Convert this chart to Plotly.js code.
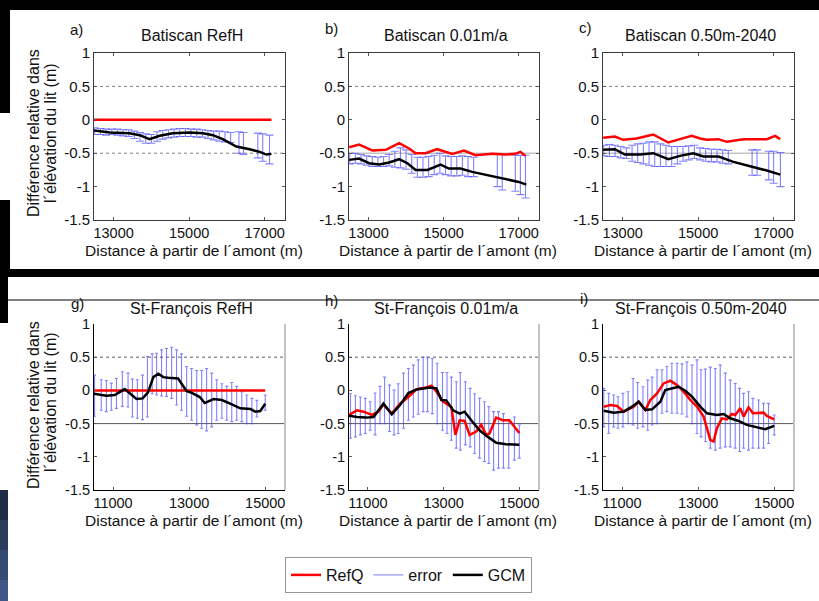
<!DOCTYPE html>
<html><head><meta charset="utf-8">
<script src="https://cdn.plot.ly/plotly-3.0.1.min.js"></script>
<style>html,body{margin:0;padding:0;background:#fff;}#chart{width:819px;height:601px;}</style>
</head><body><div id="chart"></div>
<script>
// ---------- DATA ----------
const yTickVals = [-1.5, -1, -0.5, 0, 0.5, 1];
const yTickText = ['-1.5', '-1', '-0.5', '0', '0.5', '1'];
const xTickValsTop = [13000, 15000, 17000];
const xTickTextTop = ['13000', '15000', '17000'];
const xTickValsBot = [11000, 13000, 15000];
const xTickTextBot = ['11000', '13000', '15000'];

const panelTitles = ['Batiscan RefH', 'Batiscan 0.01m/a', 'Batiscan 0.50m-2040',
                     'St-François RefH', 'St-François 0.01m/a', 'St-François 0.50m-2040'];
const panelLetters = ['a)', 'b)', 'c)', 'g)', 'h)', 'i)'];
const xTitle = 'Distance à partir de l´amont (m)';
const yTitle1 = 'Différence relative dans';
const yTitle2 = 'l´élévation du lit (m)';
const legendNames = ['RefQ', 'error', 'GCM'];

// Panel a — Batiscan RefH
const aRefX = [12480, 13000, 13500, 14000, 14500, 15000, 15500, 16000, 16500, 17000, 17180];
const aRefY = [0, 0, 0, 0, 0, 0, 0, 0, 0, 0, 0];
const aGcmX = [12480, 12900, 13420, 13690, 13950, 14220, 14570, 15010, 15370, 15630, 15890, 16250, 16600, 16870, 17045, 17180];
const aGcmY = [-0.16, -0.19, -0.20, -0.23, -0.29, -0.24, -0.20, -0.19, -0.20, -0.23, -0.29, -0.40, -0.44, -0.48, -0.52, -0.51];
const aErrX = [12500, 12650, 12800, 12950, 13100, 13250, 13400, 13550, 13700, 13850, 14000, 14150, 14300, 14450, 14600, 14750, 14900, 15050, 15200, 15350, 15500, 15650, 15800, 15950, 16100, 16320, 16440, 16820, 16950, 17130];
const aErrLo = [-0.22, -0.22, -0.23, -0.22, -0.23, -0.24, -0.25, -0.28, -0.32, -0.35, -0.35, -0.32, -0.29, -0.27, -0.26, -0.25, -0.25, -0.25, -0.26, -0.26, -0.28, -0.30, -0.32, -0.33, -0.34, -0.50, -0.52, -0.57, -0.62, -0.66];
const aErrHi = [-0.12, -0.13, -0.14, -0.14, -0.14, -0.15, -0.15, -0.17, -0.19, -0.21, -0.22, -0.18, -0.16, -0.15, -0.14, -0.13, -0.13, -0.14, -0.14, -0.15, -0.16, -0.17, -0.17, -0.18, -0.19, -0.18, -0.19, -0.20, -0.21, -0.23];

// Panel b — Batiscan 0.01m/a
const bRefX = [12485, 12750, 13105, 13460, 13815, 14080, 14255, 14520, 14830, 15050, 15230, 15540, 15850, 16290, 16650, 16910, 17045, 17180];
const bRefY = [-0.41, -0.37, -0.46, -0.45, -0.35, -0.43, -0.50, -0.50, -0.44, -0.48, -0.51, -0.46, -0.53, -0.51, -0.52, -0.51, -0.48, -0.54];
const bGcmX = [12485, 12750, 13015, 13280, 13550, 13815, 14035, 14255, 14570, 14920, 15140, 15450, 15760, 16200, 16650, 17000, 17205];
const bGcmY = [-0.60, -0.58, -0.65, -0.67, -0.64, -0.59, -0.65, -0.75, -0.75, -0.67, -0.73, -0.73, -0.78, -0.83, -0.88, -0.93, -0.97];
const bErrX = [12500, 12650, 12800, 12950, 13100, 13250, 13400, 13550, 13700, 13850, 14000, 14150, 14300, 14450, 14600, 14750, 14900, 15050, 15200, 15350, 15500, 15650, 15800, 16430, 16560, 16910, 17045, 17180];
const bErrLo = [-0.66, -0.65, -0.66, -0.68, -0.70, -0.70, -0.70, -0.69, -0.71, -0.72, -0.74, -0.80, -0.86, -0.86, -0.85, -0.82, -0.80, -0.82, -0.84, -0.84, -0.83, -0.85, -0.85, -1.00, -1.05, -1.07, -1.12, -1.17];
const bErrHi = [-0.50, -0.50, -0.52, -0.54, -0.55, -0.56, -0.55, -0.52, -0.47, -0.42, -0.45, -0.52, -0.56, -0.56, -0.55, -0.53, -0.50, -0.54, -0.55, -0.55, -0.54, -0.55, -0.56, -0.52, -0.52, -0.53, -0.53, -0.53];

// Panel c — Batiscan 0.50m-2040
const cRefX = [12485, 12795, 13015, 13370, 13810, 14030, 14210, 14520, 14830, 15055, 15230, 15540, 15760, 16200, 16820, 17040, 17175];
const cRefY = [-0.27, -0.25, -0.30, -0.28, -0.22, -0.28, -0.34, -0.29, -0.24, -0.28, -0.30, -0.29, -0.33, -0.29, -0.29, -0.24, -0.29];
const cGcmX = [12485, 12795, 13060, 13460, 13810, 14210, 14520, 14870, 15140, 15540, 15935, 16380, 16820, 17175];
const cGcmY = [-0.45, -0.44, -0.52, -0.52, -0.50, -0.59, -0.54, -0.50, -0.55, -0.55, -0.63, -0.69, -0.76, -0.82];
const cErrX = [12500, 12650, 12800, 12950, 13100, 13250, 13400, 13550, 13700, 13850, 14000, 14150, 14300, 14450, 14600, 14750, 14900, 15050, 15200, 15350, 15500, 15650, 15800, 16430, 16560, 16870, 17000, 17180];
const cErrLo = [-0.54, -0.55, -0.55, -0.57, -0.58, -0.62, -0.64, -0.66, -0.68, -0.70, -0.70, -0.70, -0.70, -0.66, -0.62, -0.60, -0.58, -0.60, -0.62, -0.63, -0.63, -0.65, -0.66, -0.83, -0.83, -0.90, -0.95, -1.00];
const cErrHi = [-0.38, -0.37, -0.38, -0.40, -0.42, -0.38, -0.36, -0.35, -0.33, -0.33, -0.36, -0.38, -0.40, -0.40, -0.40, -0.39, -0.38, -0.42, -0.43, -0.44, -0.44, -0.45, -0.46, -0.45, -0.45, -0.47, -0.47, -0.49];

// Panel g — St-François RefH
const gRefX = [10500, 11000, 11500, 12000, 12500, 13000, 13500, 14000, 14500, 15000];
const gRefY = [0, 0, 0, 0, 0, 0, 0, 0, 0, 0];
const gGcmX = [10490, 10824, 11044, 11308, 11617, 11780, 11920, 12060, 12190, 12320, 12450, 12710, 12930, 13060, 13280, 13410, 13640, 13860, 14080, 14345, 14610, 14740, 14870, 15000];
const gGcmY = [-0.05, -0.08, -0.07, 0.02, -0.13, -0.12, -0.03, 0.20, 0.25, 0.20, 0.19, 0.18, -0.01, -0.035, -0.10, -0.19, -0.13, -0.145, -0.20, -0.27, -0.28, -0.32, -0.31, -0.20];
const gErrX = [10515, 10690, 10825, 10955, 11090, 11245, 11395, 11510, 11640, 11775, 11905, 12030, 12145, 12275, 12405, 12540, 12670, 12800, 12935, 13065, 13200, 13330, 13460, 13595, 13725, 13860, 13990, 14120, 14250, 14385, 14515, 14650, 14780, 15000];
const gErrHi = [0.23, 0.16, 0.15, 0.11, 0.18, 0.28, 0.26, 0.17, 0.16, 0.23, 0.51, 0.55, 0.56, 0.61, 0.63, 0.65, 0.61, 0.55, 0.36, 0.33, 0.30, 0.30, 0.33, 0.26, 0.16, 0.10, 0.06, 0.12, 0.06, -0.02, -0.07, -0.12, -0.15, -0.07];
const gErrLo = [-0.39, -0.30, -0.32, -0.30, -0.27, -0.24, -0.25, -0.40, -0.42, -0.44, -0.40, -0.05, -0.07, -0.085, -0.09, -0.12, -0.22, -0.30, -0.39, -0.45, -0.52, -0.57, -0.61, -0.55, -0.45, -0.42, -0.45, -0.47, -0.45, -0.47, -0.50, -0.50, -0.40, -0.30];

// Panel h — St-François 0.01m/a
const hRefX = [10501, 10711, 10886, 11105, 11280, 11411, 11630, 11760, 11849, 12068, 12287, 12505, 12680, 12812, 12987, 13206, 13311, 13425, 13556, 13687, 13862, 13993, 14125, 14212, 14387, 14562, 14737, 15000];
const hRefY = [-0.37, -0.30, -0.32, -0.37, -0.32, -0.21, -0.35, -0.25, -0.20, -0.10, 0.02, 0.04, 0.07, -0.02, -0.17, -0.25, -0.67, -0.45, -0.46, -0.67, -0.62, -0.52, -0.67, -0.65, -0.41, -0.45, -0.45, -0.64];
const hGcmX = [10501, 10711, 10960, 11150, 11410, 11630, 11849, 12070, 12287, 12460, 12640, 12810, 12940, 13070, 13250, 13425, 13555, 13730, 13950, 14170, 14390, 14650, 15000];
const hGcmY = [-0.38, -0.40, -0.41, -0.40, -0.20, -0.36, -0.22, -0.04, 0.015, 0.03, 0.045, 0.03, -0.145, -0.15, -0.30, -0.35, -0.32, -0.45, -0.60, -0.70, -0.79, -0.81, -0.82];
const hErrX = [10540, 10670, 10800, 10930, 11060, 11190, 11320, 11440, 11570, 11690, 11800, 11940, 12070, 12200, 12330, 12460, 12575, 12700, 12830, 12970, 13090, 13205, 13335, 13440, 13575, 13700, 13820, 13950, 14080, 14195, 14320, 14450, 14580, 14720, 14870, 15000];
const hErrHi = [-0.05, -0.08, -0.10, -0.12, -0.17, -0.04, 0.06, 0.20, 0.08, 0.005, 0.10, 0.26, 0.33, 0.38, 0.46, 0.50, 0.50, 0.48, 0.41, 0.27, 0.27, 0.20, 0.13, 0.27, 0.13, 0.03, -0.05, -0.12, -0.17, -0.245, -0.32, -0.32, -0.35, -0.45, -0.40, -0.52];
const hErrLo = [-0.72, -0.70, -0.67, -0.65, -0.60, -0.67, -0.50, -0.50, -0.62, -0.67, -0.65, -0.57, -0.45, -0.40, -0.36, -0.32, -0.32, -0.35, -0.50, -0.60, -0.65, -0.75, -0.87, -0.90, -0.82, -0.85, -0.95, -1.02, -1.07, -1.10, -1.20, -1.17, -1.17, -1.17, -1.05, -1.02];

// Panel i — St-François 0.50m-2040
const iRefX = [10519, 10694, 10869, 11044, 11306, 11438, 11613, 11744, 11919, 12094, 12269, 12444, 12619, 12794, 12969, 13144, 13319, 13407, 13494, 13626, 13757, 13888, 13976, 14107, 14195, 14326, 14440, 14589, 14720, 14808, 15000];
const iRefY = [-0.245, -0.22, -0.235, -0.32, -0.245, -0.17, -0.295, -0.145, -0.045, 0.105, 0.145, 0.08, -0.02, -0.145, -0.245, -0.395, -0.745, -0.77, -0.57, -0.42, -0.435, -0.355, -0.37, -0.27, -0.395, -0.255, -0.345, -0.345, -0.335, -0.385, -0.435];
const iGcmX = [10519, 10781, 11044, 11262, 11438, 11613, 11788, 12007, 12138, 12313, 12488, 12663, 12838, 13057, 13232, 13494, 13669, 13844, 14063, 14282, 14545, 14764, 15000];
const iGcmY = [-0.305, -0.335, -0.32, -0.245, -0.17, -0.295, -0.285, -0.17, 0.005, 0.03, 0.055, -0.005, -0.095, -0.245, -0.345, -0.37, -0.355, -0.42, -0.46, -0.52, -0.56, -0.585, -0.535];
const iErrX = [10520, 10650, 10780, 10895, 11025, 11160, 11290, 11410, 11550, 11675, 11790, 11920, 12050, 12180, 12310, 12445, 12575, 12705, 12840, 12970, 13075, 13190, 13320, 13450, 13580, 13715, 13845, 13975, 14090, 14195, 14325, 14440, 14590, 14720, 14850, 15000];
const iErrHi = [0.03, -0.045, -0.07, -0.095, -0.045, -0.02, 0.18, 0.12, 0.055, 0.155, 0.20, 0.31, 0.31, 0.36, 0.41, 0.41, 0.40, 0.43, 0.38, 0.46, 0.31, 0.32, 0.35, 0.33, 0.38, 0.26, 0.155, 0.105, 0.03, -0.045, -0.02, -0.12, -0.145, -0.195, -0.195, -0.37];
const iErrLo = [-0.55, -0.65, -0.55, -0.57, -0.55, -0.50, -0.52, -0.57, -0.55, -0.60, -0.52, -0.50, -0.345, -0.32, -0.345, -0.345, -0.355, -0.40, -0.50, -0.65, -0.70, -0.77, -0.87, -0.90, -0.87, -0.85, -0.85, -0.87, -0.92, -0.87, -0.90, -0.87, -0.87, -0.87, -0.80, -0.67];

// ---------- LAYOUT HELPERS ----------
const W = 819, H = 601;
const FONT = 'Liberation Sans, Arial, sans-serif';
const PX = p => p / W;
const PY = p => 1 - p / H;
const RED = '#ff0000', BLACK = '#000000', BLUE = 'rgba(70,70,255,0.68)';

const panels = [
  {ref:[aRefX,aRefY], gcm:[aGcmX,aGcmY], err:[aErrX,aErrLo,aErrHi], top:true},
  {ref:[bRefX,bRefY], gcm:[bGcmX,bGcmY], err:[bErrX,bErrLo,bErrHi], top:true},
  {ref:[cRefX,cRefY], gcm:[cGcmX,cGcmY], err:[cErrX,cErrLo,cErrHi], top:true},
  {ref:[gRefX,gRefY], gcm:[gGcmX,gGcmY], err:[gErrX,gErrLo,gErrHi], top:false},
  {ref:[hRefX,hRefY], gcm:[hGcmX,hGcmY], err:[hErrX,hErrLo,hErrHi], top:false},
  {ref:[iRefX,iRefY], gcm:[iGcmX,iGcmY], err:[iErrX,iErrLo,iErrHi], top:false}
];
const colLeft = [94, 349, 603], colRight = [285, 539, 794];
const rowTop = [53, 324], rowBot = [220, 490];

const traces = [];
const layout = {
  width: W, height: H, margin: {l:0, r:0, t:0, b:0},
  paper_bgcolor: '#ffffff', plot_bgcolor: '#ffffff',
  font: {family: FONT, color: '#111'},
  showlegend: true,
  legend: {orientation:'h', x: PX(285), y: PY(557), xanchor:'left', yanchor:'top',
           bordercolor:'rgb(150,150,150)', borderwidth:1, bgcolor:'#ffffff',
           font:{family:FONT, size:16, color:'#111'}, itemwidth:30, tracegroupgap:0},
  shapes: [], annotations: []
};

panels.forEach((p, k) => {
  const n = k + 1, sfx = n === 1 ? '' : String(n);
  const xa = 'x' + sfx, ya = 'y' + sfx;
  const col = k % 3, row = p.top ? 0 : 1;
  const lineCol = p.top ? 'rgb(60,60,60)' : '#000';
  layout['xaxis' + sfx] = {
    domain: [PX(colLeft[col]), PX(colRight[col])],
    range: p.top ? [12480, 17540] : [10500, 15520],
    anchor: ya, showgrid:false, zeroline:false, showline:true, linecolor: lineCol, linewidth:1,
    mirror: p.top ? 'ticks' : false, ticks:'inside', ticklen:3, tickcolor:'rgb(90,90,90)',
    tickvals: p.top ? xTickValsTop : xTickValsBot, ticktext: p.top ? xTickTextTop : xTickTextBot,
    tickfont: {family:FONT, size: 14.5, color:'#111'}, fixedrange:true
  };
  layout['yaxis' + sfx] = {
    domain: [PY(rowBot[row]), PY(rowTop[row])],
    range: [-1.5, 1], anchor: xa, showgrid:false, zeroline:false, showline:true,
    linecolor: lineCol, linewidth:1, mirror: p.top ? 'ticks' : false,
    ticks:'inside', ticklen:3, tickcolor:'rgb(90,90,90)',
    tickvals: yTickVals, ticktext: yTickText,
    tickfont: {family:FONT, size: p.top ? 15 : 14.5, color:'#111'}, fixedrange:true
  };
  // reference lines at +/-0.5
  const dom = {xref: xa + ' domain', x0: 0, x1: 1, yref: ya, layer:'below'};
  layout.shapes.push(Object.assign({type:'line', y0:0.5, y1:0.5,
     line:{color: p.top ? 'rgb(130,130,130)' : 'rgb(150,150,150)', width: p.top ? 1 : 1.5, dash:'dot'}}, dom));
  layout.shapes.push(Object.assign({type:'line', y0:-0.5, y1:-0.5,
     line: p.top ? (k === 0 ? {color:'rgb(130,130,130)', width:1, dash:'dot'} : {color:'rgb(195,195,195)', width:1.5})
                 : {color:'rgb(90,90,90)', width:1}}, dom));
  if (!p.top) {
    layout.shapes.push({type:'line', xref: xa + ' domain', x0:1, x1:1, yref: ya + ' domain', y0:0, y1:1,
      line:{color:'rgb(195,195,195)', width:2}, layer:'above'});
  }
  // traces
  const [ex, lo, hi] = p.err;
  const ctr = lo.map((l, i) => (l + hi[i]) / 2);
  const half = lo.map((l, i) => (hi[i] - l) / 2);
  traces.push({type:'scatter', mode:'markers', x: ex, y: ctr, xaxis: xa, yaxis: ya,
    marker:{size:1, color:'rgba(0,0,0,0)'}, showlegend:false, hoverinfo:'skip',
    error_y:{type:'data', array: half, symmetric:true, color: BLUE, thickness:1.1, width: p.top ? 4 : 1.5}});
  traces.push({type:'scatter', mode:'lines', x: p.ref[0], y: p.ref[1], xaxis: xa, yaxis: ya,
    line:{color: RED, width: 2.5}, showlegend:false, hoverinfo:'skip'});
  traces.push({type:'scatter', mode:'lines', x: p.gcm[0], y: p.gcm[1], xaxis: xa, yaxis: ya,
    line:{color: BLACK, width: 2.5}, showlegend:false, hoverinfo:'skip'});

  // texts
  const cx = (colLeft[col] + colRight[col]) / 2;
  layout.annotations.push({xref:'paper', yref:'paper', x: PX(cx + 2), y: PY(p.top ? 36 : 308),
    text: panelTitles[k], showarrow:false, xanchor:'center', yanchor:'middle',
    font:{family:FONT, size:16, color:'#111'}});
  const letterPos = [[76,30],[331,29],[585,28],[77,303],[331,300],[584,298]][k];
  layout.annotations.push({xref:'paper', yref:'paper', x: PX(letterPos[0]), y: PY(letterPos[1]),
    text: panelLetters[k], showarrow:false, xanchor:'center', yanchor:'middle',
    font:{family:FONT, size:15, color:'#111'}});
  layout.annotations.push({xref:'paper', yref:'paper', x: PX(cx + 4), y: PY(p.top ? 250 : 520),
    text: xTitle, showarrow:false, xanchor:'center', yanchor:'middle',
    font:{family:FONT, size:15.5, color:'#111'}});
});

// y-axis titles (two rotated lines per row)
[[133, 133], [405, 402]].forEach(([c1, c2]) => {
  layout.annotations.push({xref:'paper', yref:'paper', x: PX(33), y: PY(c1), text: yTitle1,
    textangle:-90, showarrow:false, xanchor:'center', yanchor:'middle', font:{family:FONT, size:16, color:'#111'}});
  layout.annotations.push({xref:'paper', yref:'paper', x: PX(50), y: PY(c2), text: yTitle2,
    textangle:-90, showarrow:false, xanchor:'center', yanchor:'middle', font:{family:FONT, size:16, color:'#111'}});
});

// slide frame (screenshot background)
const frame = [
  {x0:0, x1:W, y0:0, y1:10, c:'#000'},
  {x0:0, x1:10, y0:0, y1:113, c:'#000'},
  {x0:0, x1:10, y0:200, y1:269, c:'#000'},
  {x0:0, x1:W, y0:269, y1:277, c:'#000'},
  {x0:0, x1:8, y0:277, y1:323, c:'#000'},
  {x0:0, x1:8, y0:490, y1:520, c:'#1f2c47'},
  {x0:0, x1:8, y0:520, y1:550, c:'#2a3b5c'},
  {x0:0, x1:8, y0:550, y1:580, c:'#354b72'},
  {x0:0, x1:8, y0:580, y1:601, c:'#3f5886'}
];
frame.forEach(f => layout.shapes.push({type:'rect', xref:'paper', yref:'paper',
  x0: PX(f.x0), x1: PX(f.x1), y0: PY(f.y1), y1: PY(f.y0), fillcolor: f.c, line:{width:0}, layer:'above'}));
layout.shapes.push({type:'line', xref:'paper', yref:'paper', x0: PX(8), x1: 1, y0: PY(300), y1: PY(300),
  line:{color:'#000', width:1.2}, layer:'above'});

// legend entries
traces.push({type:'scatter', mode:'lines', x:[null], y:[null], name: legendNames[0], line:{color:RED, width:2.5}, showlegend:true});
traces.push({type:'scatter', mode:'lines', x:[null], y:[null], name: legendNames[1], line:{color:'rgba(120,120,255,0.8)', width:1.2}, showlegend:true});
traces.push({type:'scatter', mode:'lines', x:[null], y:[null], name: legendNames[2], line:{color:BLACK, width:2.5}, showlegend:true});

Plotly.newPlot('chart', traces, layout, {staticPlot:true, displayModeBar:false});
</script></body></html>
